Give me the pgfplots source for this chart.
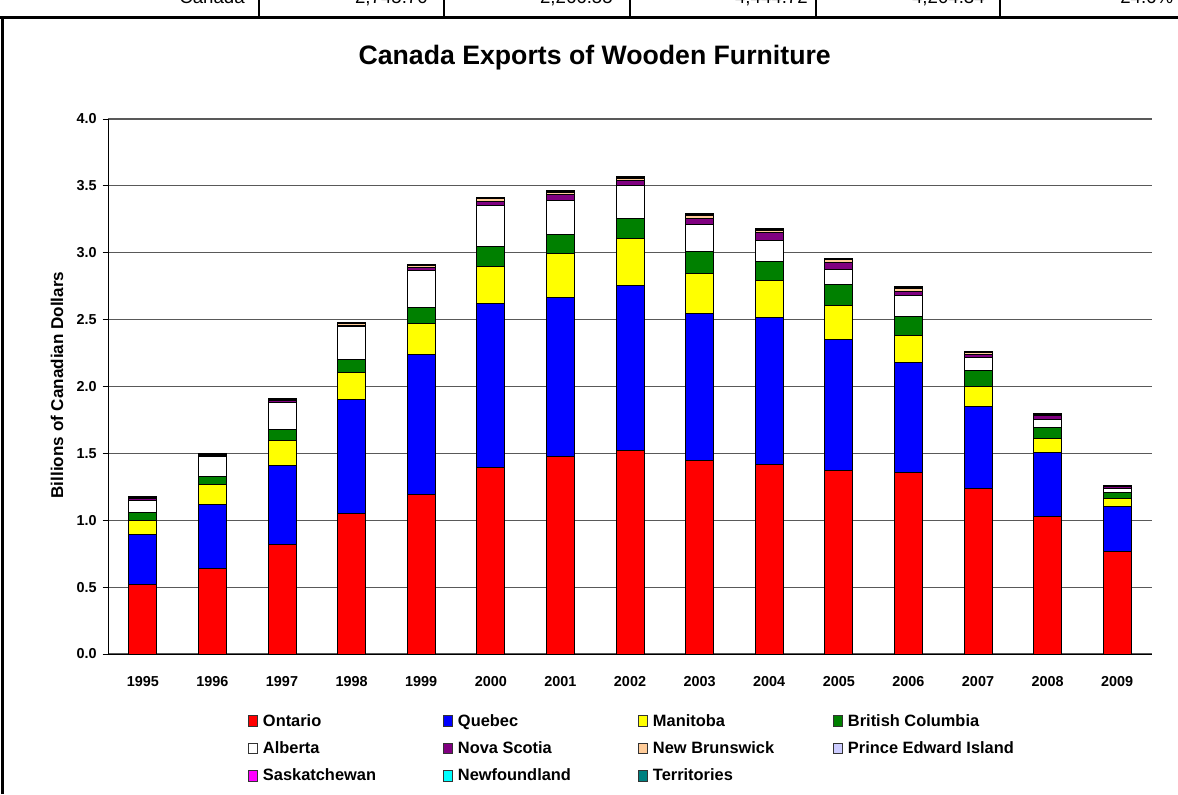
\documentclass[border=0pt]{standalone}
\usepackage{fontspec}
\setmainfont{Liberation Sans}
\usepackage{pgfplots}
\pgfplotsset{compat=1.18}
\usepackage{pgfplotstable}
\definecolor{cOnt}{HTML}{FF0000}
\definecolor{cQue}{HTML}{0000FF}
\definecolor{cMan}{HTML}{FFFF00}
\definecolor{cBC}{HTML}{008000}
\definecolor{cAlb}{HTML}{FFFFFF}
\definecolor{cNS}{HTML}{800080}
\definecolor{cNB}{HTML}{FFCC99}
\definecolor{cPEI}{HTML}{CCCCFF}
\definecolor{cSask}{HTML}{FF00FF}
\definecolor{cNfld}{HTML}{00FFFF}
\definecolor{cTerr}{HTML}{008080}
\pgfplotstableread{
x Ont Que Man BC Alb NS NB PEI Sask Nfld Terr
0 0.520 0.370 0.110 0.060 0.084 0.018 0.008 0.002 0.004 0.001 0.0005
1 0.640 0.480 0.144 0.066 0.143 0.014 0.008 0.002 0.003 0.001 0.0005
2 0.815 0.598 0.187 0.075 0.202 0.015 0.010 0.002 0.004 0.001 0.0005
3 1.047 0.853 0.208 0.097 0.240 0.013 0.014 0.003 0.004 0.001 0.0005
4 1.189 1.047 0.233 0.125 0.271 0.025 0.015 0.003 0.004 0.001 0.0005
5 1.398 1.219 0.283 0.145 0.305 0.034 0.020 0.004 0.006 0.002 0.0005
6 1.480 1.185 0.330 0.139 0.259 0.043 0.015 0.004 0.006 0.002 0.0005
7 1.520 1.232 0.356 0.149 0.243 0.037 0.020 0.005 0.007 0.003 0.0005
8 1.450 1.093 0.303 0.161 0.207 0.043 0.022 0.004 0.006 0.002 0.0005
9 1.420 1.095 0.281 0.137 0.162 0.055 0.018 0.004 0.006 0.002 0.0005
10 1.370 0.985 0.249 0.155 0.117 0.052 0.018 0.004 0.006 0.002 0.0005
11 1.360 0.821 0.197 0.144 0.155 0.037 0.018 0.004 0.007 0.003 0.0005
12 1.240 0.609 0.154 0.114 0.100 0.025 0.010 0.003 0.004 0.001 0.0005
13 1.030 0.480 0.102 0.078 0.067 0.023 0.010 0.003 0.003 0.001 0.0005
14 0.770 0.330 0.060 0.050 0.025 0.015 0.007 0.002 0.002 0.001 0.0005
}\data
\begin{document}
\begin{tikzpicture}
\useasboundingbox (0,0) rectangle (883.5pt,595.5pt);
% frame and clipped table row above the chart
\begin{scope}
\clip (0,0) rectangle (883.5pt,595.5pt);
\draw[line width=2.25pt] (0,582pt) -- (883.5pt,582pt);
\draw[line width=2.25pt] (1.5pt,0) -- (1.5pt,582pt);
\foreach \xx in {194.25,333,472.5,612,750}{\draw[line width=1.5pt] (\xx pt,582pt) -- (\xx pt,600pt);}
\fontsize{14}{16}\selectfont
\node[anchor=base east,inner sep=0] at (183.75pt,592.5pt) {Canada};
\node[anchor=base east,inner sep=0] at (321pt,592.5pt) {2,745.70};
\node[anchor=base east,inner sep=0] at (459.75pt,592.5pt) {2,266.55};
\node[anchor=base east,inner sep=0] at (606pt,592.5pt) {4,444.72};
\node[anchor=base east,inner sep=0] at (738.75pt,592.5pt) {4,204.34};
\node[anchor=base west,inner sep=0] at (840pt,592.5pt) {24.6\%};
\end{scope}
\node[font=\bfseries\fontsize{20}{24}\selectfont] at (446pt,552.5pt) {Canada Exports of Wooden Furniture};
\node[rotate=90,font=\bfseries\fontsize{12.8}{14}\selectfont] at (42.75pt,306.75pt) {Billions of Canadian Dollars};
\begin{axis}[
  at={(81pt,105pt)}, anchor=south west,
  scale only axis, width=783pt, height=401.25pt,
  ybar stacked, bar width=21pt,
  xmin=-0.5, xmax=14.5, ymin=0, ymax=4,
  axis x line*=bottom, axis y line*=left,
  axis line style={black, line width=0.75pt},
  xtick={0,...,14},
  xticklabels={1995,1996,1997,1998,1999,2000,2001,2002,2003,2004,2005,2006,2007,2008,2009},
  x tick style={draw=none},
  extra x ticks={-0.5,0.5,...,14.5},
  extra x tick labels={},
  extra x tick style={tick style={draw=black, line width=0.75pt}, major tick length=4pt, tick align=outside},
  ytick={0,0.5,...,4},
  y tick style={black, line width=0.75pt},
  major tick length=4pt, tick align=outside,
  ymajorgrids, grid style={black!65, line width=0.9pt},
  /pgf/number format/fixed, /pgf/number format/fixed zerofill,
  /pgf/number format/precision=1, /pgf/number format/assume math mode=true,
  tick label style={font=\bfseries\fontsize{10.8}{12}\selectfont},
  xticklabel style={yshift=-9pt},
  yticklabel style={xshift=-1pt},
  every axis plot/.append style={draw=black, line width=0.75pt},
  legend columns=4,
  legend style={at={(0.130,-0.1042)}, anchor=north west, draw=none, fill=none,
    font=\bfseries\fontsize{12.3}{14}\selectfont,
    nodes={text height=9pt, text depth=2.5pt, inner sep=1pt},
    row sep=7pt},
  legend cell align=left,
  legend image code/.code={\draw[#1, draw=black!80, line width=0.75pt] (0pt,-3.5pt) rectangle (6.5pt,4.5pt);},
]
\addplot[fill=cOnt] table[x=x,y=Ont]{\data}; \addlegendentry{\hspace{3pt}\makebox[134pt][l]{Ontario}}
\addplot[fill=cQue] table[x=x,y=Que]{\data}; \addlegendentry{\hspace{3pt}\makebox[134pt][l]{Quebec}}
\addplot[fill=cMan] table[x=x,y=Man]{\data}; \addlegendentry{\hspace{3pt}\makebox[134pt][l]{Manitoba}}
\addplot[fill=cBC] table[x=x,y=BC]{\data}; \addlegendentry{\hspace{3pt}\makebox[134pt][l]{British Columbia}}
\addplot[fill=cAlb] table[x=x,y=Alb]{\data}; \addlegendentry{\hspace{3pt}\makebox[134pt][l]{Alberta}}
\addplot[fill=cNS] table[x=x,y=NS]{\data}; \addlegendentry{\hspace{3pt}\makebox[134pt][l]{Nova Scotia}}
\addplot[fill=cNB] table[x=x,y=NB]{\data}; \addlegendentry{\hspace{3pt}\makebox[134pt][l]{New Brunswick}}
\addplot[fill=cPEI] table[x=x,y=PEI]{\data}; \addlegendentry{\hspace{3pt}\makebox[134pt][l]{Prince Edward Island}}
\addplot[fill=cSask] table[x=x,y=Sask]{\data}; \addlegendentry{\hspace{3pt}\makebox[134pt][l]{Saskatchewan}}
\addplot[fill=cNfld] table[x=x,y=Nfld]{\data}; \addlegendentry{\hspace{3pt}\makebox[134pt][l]{Newfoundland}}
\addplot[fill=cTerr] table[x=x,y=Terr]{\data}; \addlegendentry{\hspace{3pt}\makebox[134pt][l]{Territories}}
\end{axis}
\end{tikzpicture}
\end{document}
